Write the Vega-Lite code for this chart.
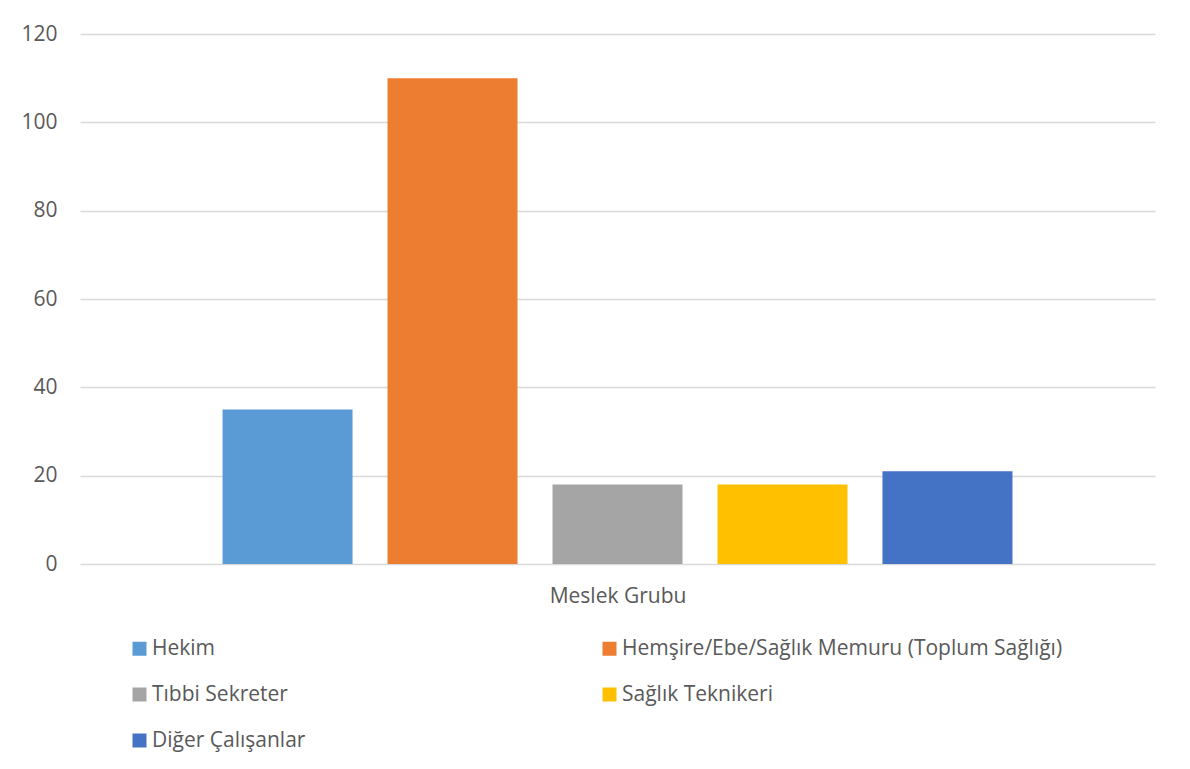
{
  "$schema": "https://vega.github.io/schema/vega-lite/v6.json",
  "autosize": {"type": "none"},
  "padding": {"left": 80, "top": 34, "right": 35, "bottom": 205},
  "width": 1075,
  "height": 530,
  "background": "white",
  "config": {
    "font": "Open Sans",
    "view": {"stroke": null},
    "axis": {"labelColor": "#595959", "titleColor": "#595959", "labelFont": "Open Sans", "titleFont": "Open Sans"},
    "legend": {"labelColor": "#595959", "labelFont": "Open Sans"}
  },
  "data": {
    "values": [
      {"grup": "Hekim", "deger": 35},
      {"grup": "Hemşire/Ebe/Sağlık Memuru (Toplum Sağlığı)", "deger": 110},
      {"grup": "Tıbbi Sekreter", "deger": 18},
      {"grup": "Sağlık Teknikeri", "deger": 18},
      {"grup": "Diğer Çalışanlar", "deger": 21}
    ]
  },
  "mark": {"type": "bar"},
  "encoding": {
    "x": {
      "field": "grup",
      "type": "nominal",
      "sort": null,
      "scale": {"paddingInner": 0.212, "paddingOuter": 0.864},
      "axis": {
        "title": "Meslek Grubu",
        "labels": false,
        "ticks": false,
        "domain": false,
        "titleFontSize": 21,
        "titleFontWeight": "normal",
        "titleBaseline": "alphabetic",
        "titleY": 38
      }
    },
    "y": {
      "field": "deger",
      "type": "quantitative",
      "scale": {"domain": [0, 120]},
      "axis": {
        "title": null,
        "values": [0, 20, 40, 60, 80, 100, 120],
        "ticks": false,
        "domain": false,
        "labelPadding": 23,
        "labelFontSize": 21,
        "gridColor": "#d9d9d9",
        "gridWidth": 1.3
      }
    },
    "color": {
      "field": "grup",
      "type": "nominal",
      "scale": {
        "domain": ["Hekim", "Tıbbi Sekreter", "Diğer Çalışanlar", "Hemşire/Ebe/Sağlık Memuru (Toplum Sağlığı)", "Sağlık Teknikeri"],
        "range": ["#5B9BD5", "#A5A5A5", "#4472C4", "#ED7D31", "#FFC000"]
      },
      "legend": {
        "title": null,
        "orient": "none",
        "legendX": 49,
        "legendY": 604,
        "columns": 2,
        "gridAlign": "all",
        "columnPadding": 6,
        "rowPadding": 24,
        "symbolType": "square",
        "symbolSize": 196,
        "symbolStrokeWidth": 0,
        "symbolOpacity": 1,
        "labelFontSize": 21,
        "labelOffset": 2,
        "labelLimit": 700,
        "padding": 0
      }
    }
  }
}
